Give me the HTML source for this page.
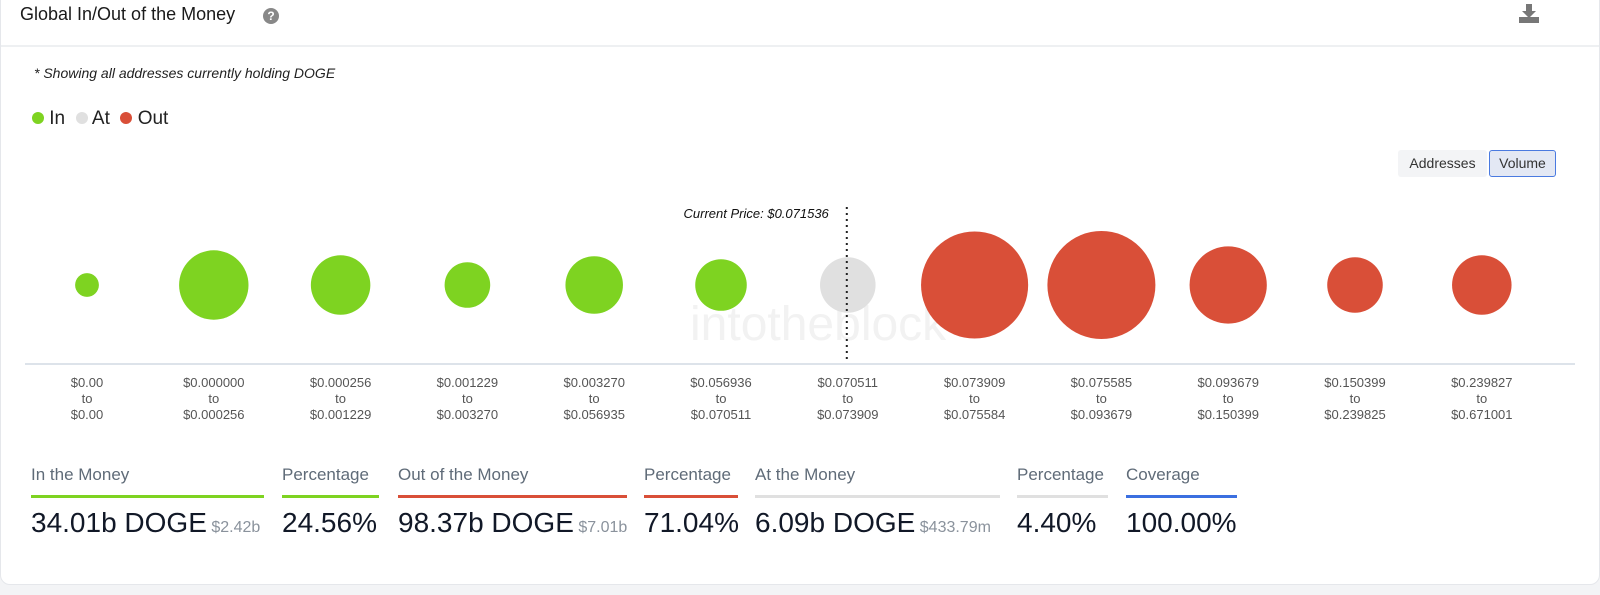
<!DOCTYPE html>
<html><head><meta charset="utf-8"><style>
body{margin:0;width:1600px;height:595px;background:#f3f4f6;font-family:"Liberation Sans",sans-serif;position:relative;overflow:hidden}
#card{position:absolute;left:0;top:-10px;width:1598px;height:593px;background:#fff;border:1px solid #e5e7eb;border-radius:10px}
.abs{position:absolute}
.stat-label{font-size:17px;color:#5f6b78}
.stat-val{font-size:28px;color:#111827}
.stat-sub{font-size:16px;color:#8a929c}
.bar{height:3px}
</style></head><body>
<div id="card"></div>
<div class="abs" style="left:20px;top:4px;font-size:18px;color:#1a1a1a">Global In/Out of the Money</div>
<div class="abs" style="left:263px;top:8px;width:16px;height:16px;border-radius:50%;background:#888;color:#fff;font-size:12px;font-weight:bold;text-align:center;line-height:16px">?</div>
<svg class="abs" style="left:1518px;top:3px" width="22" height="22"><path d="M8 1h6v7h4l-7 7-7-7h4z" fill="#777"/><rect x="1" y="14" width="20" height="6" fill="#777"/></svg>
<div class="abs" style="left:1px;top:45px;width:1598px;height:2px;background:#eef0f2"></div>
<div class="abs" style="left:34px;top:65px;font-size:14px;font-style:italic;color:#222">* Showing all addresses currently holding DOGE</div>
<div class="abs" style="left:32px;top:108px;font-size:19px;color:#222">
<span><span style="display:inline-block;width:12px;height:12px;border-radius:50%;background:#7ed321"></span> In</span>&nbsp;
<span><span style="display:inline-block;width:12px;height:12px;border-radius:50%;background:#e0e0e0"></span> At</span>&nbsp;
<span><span style="display:inline-block;width:12px;height:12px;border-radius:50%;background:#d94f38"></span> Out</span></div>
<div class="abs" style="left:1398px;top:150px;width:89px;height:27px;background:#f3f4f6;border-radius:3px;font-size:14px;color:#333;text-align:center;line-height:27px">Addresses</div>
<div class="abs" style="left:1489px;top:150px;width:65px;height:25px;background:#e3e8f4;border:1px solid #4a7ae0;border-radius:3px;font-size:14px;color:#333;text-align:center;line-height:25px">Volume</div>
<svg id="chart" class="abs" style="left:0;top:0" width="1600" height="440"></svg>

<div class="abs" style="left:31px;top:465px"><div class="stat-label">In the Money</div><div class="bar" style="width:233px;background:#7ed321;margin-top:10px"></div><div style="margin-top:9px"><span class="stat-val">34.01b DOGE</span> <span class="stat-sub">$2.42b</span></div></div>
<div class="abs" style="left:282px;top:465px"><div class="stat-label">Percentage</div><div class="bar" style="width:97px;background:#7ed321;margin-top:10px"></div><div style="margin-top:9px"><span class="stat-val">24.56%</span></div></div>
<div class="abs" style="left:398px;top:465px"><div class="stat-label">Out of the Money</div><div class="bar" style="width:229px;background:#d94f38;margin-top:10px"></div><div style="margin-top:9px"><span class="stat-val">98.37b DOGE</span> <span class="stat-sub">$7.01b</span></div></div>
<div class="abs" style="left:644px;top:465px"><div class="stat-label">Percentage</div><div class="bar" style="width:94px;background:#d94f38;margin-top:10px"></div><div style="margin-top:9px"><span class="stat-val">71.04%</span></div></div>
<div class="abs" style="left:755px;top:465px"><div class="stat-label">At the Money</div><div class="bar" style="width:245px;background:#e0e0e0;margin-top:10px"></div><div style="margin-top:9px"><span class="stat-val">6.09b DOGE</span> <span class="stat-sub">$433.79m</span></div></div>
<div class="abs" style="left:1017px;top:465px"><div class="stat-label">Percentage</div><div class="bar" style="width:91px;background:#e0e0e0;margin-top:10px"></div><div style="margin-top:9px"><span class="stat-val">4.40%</span></div></div>
<div class="abs" style="left:1126px;top:465px"><div class="stat-label">Coverage</div><div class="bar" style="width:111px;background:#3b6fe0;margin-top:10px"></div><div style="margin-top:9px"><span class="stat-val">100.00%</span></div></div>

<script>
const rangeFrom=["$0.00","$0.000000","$0.000256","$0.001229","$0.003270","$0.056936","$0.070511","$0.073909","$0.075585","$0.093679","$0.150399","$0.239827"];
const rangeTo=["$0.00","$0.000256","$0.001229","$0.003270","$0.056935","$0.070511","$0.073909","$0.075584","$0.093679","$0.150399","$0.239825","$0.671001"];
const volumes=[1.48,12.6,9.26,5.44,8.65,6.95,8.07,30,30.5,15.6,8.07,9.26];
const status=["in","in","in","in","in","in","at","out","out","out","out","out"];
const currentPriceLabel="Current Price: $0.071536";
const currentIndex=6;
const svg=document.getElementById('chart');const NS="http://www.w3.org/2000/svg";
const colors={in:"#7ed321",at:"#e0e0e0",out:"#d94f38"};
const x0=87,step=126.8,cy=285,rMax=54;
const vmax=Math.max(...volumes);
const xScale=i=>x0+i*step;
const rScale=v=>rMax*Math.sqrt(v/vmax);
function mk(t,a){const e=document.createElementNS(NS,t);for(const k in a)e.setAttribute(k,a[k]);svg.appendChild(e);return e;}
const ax=mk('line',{x1:25,x2:1575,y1:364,y2:364,stroke:'#dde3ea','stroke-width':2});


const wm=mk('text',{x:690,y:340,'font-size':48,fill:'#f2f2f2','font-family':'Liberation Sans, sans-serif'});wm.textContent='intotheblock';


volumes.forEach((v,i)=>{
 const c=mk('circle',{cx:xScale(i),cy:cy,r:rScale(v),fill:colors[status[i]]});
 
 
 [[rangeFrom[i],387],["to",403],[rangeTo[i],419]].forEach(([s,y])=>{
  const t=mk('text',{x:xScale(i),y:y,'text-anchor':'middle','font-size':13,fill:'#555','font-family':'Liberation Sans, sans-serif'});t.textContent=s;
  
  
 });
});
const px=xScale(currentIndex)-1;
const dl=mk('line',{x1:px,x2:px,y1:207,y2:362,stroke:'#222','stroke-width':2,'stroke-dasharray':'2,4'});


const ct=mk('text',{x:px-18,y:218,'text-anchor':'end','font-size':13,'font-style':'italic',fill:'#111','font-family':'Liberation Sans, sans-serif'});ct.textContent=currentPriceLabel;


</script>
</body></html>
